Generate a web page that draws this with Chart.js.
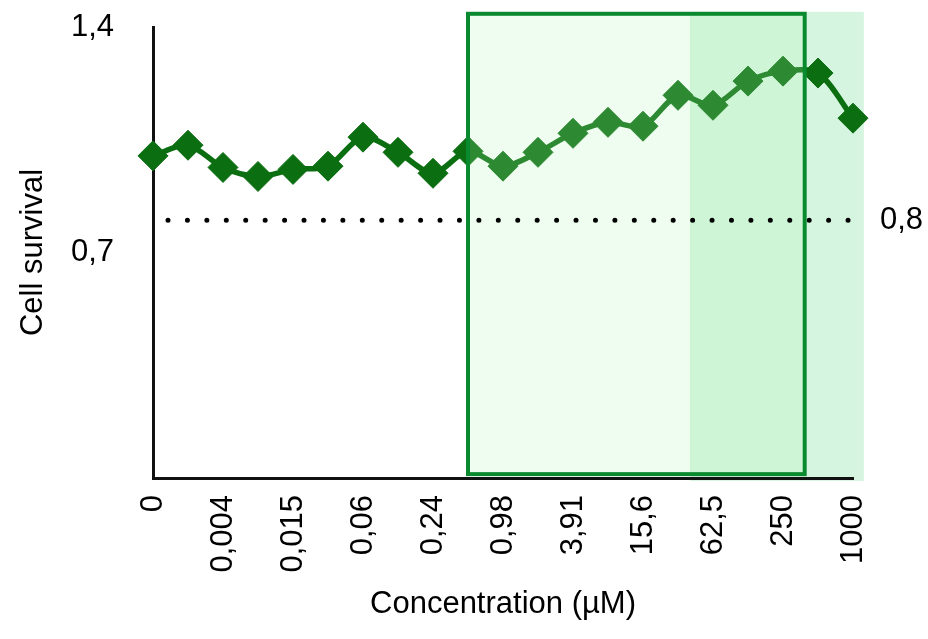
<!DOCTYPE html>
<html>
<head>
<meta charset="utf-8">
<script src="https://cdn.jsdelivr.net/npm/chart.js@4"></script>
<style>
  html, body { margin: 0; padding: 0; background: #fff; }
  #wrap { position: relative; width: 928px; height: 639px; }
</style>
</head>
<body>
<div id="wrap"><canvas id="chart"></canvas></div>
<script>
// concentrations (µM), one label every second measurement
const concLabels = ['0', '0,004', '0,015', '0,06', '0,24', '0,98', '3,91', '15,6', '62,5', '250', '1000'];
// cell survival, 21 measurements
const survival = [1.00, 1.033, 0.964, 0.936, 0.958, 0.968, 1.058, 1.011, 0.946, 1.014, 0.968,
                  1.011, 1.070, 1.104, 1.092, 1.188, 1.157, 1.232, 1.263, 1.257, 1.117];
const yTicks = [0.7, 1.4];
const threshold = 0.8;

// shaded zones, in data units (x = measurement index, y = survival)
const boxX = [9, 18.62], boxY = [0.012, 1.441];
const bandX = [15.34, 20.31], bandY = [-0.009, 1.447];

const labels = concLabels.flatMap((c, i) => i < concLabels.length - 1 ? [c, ''] : [c]);

const GREEN = '#0b6e10';
const FONT = 'Liberation Sans, Arial, sans-serif';
const SIZE = 31;
const comma = v => String(v).replace('.', ',');

function rect(chart, xr, yr) {
    const x = chart.scales.x, y = chart.scales.y;
    const x0 = x.getPixelForValue(xr[0]), x1 = x.getPixelForValue(xr[1]);
    const y0 = y.getPixelForValue(yr[1]), y1 = y.getPixelForValue(yr[0]);
    return [x0, y0, x1 - x0, y1 - y0];
}

function noPad(s) {
    s.paddingTop = 0; s.paddingBottom = 0;
    s.paddingLeft = 0; s.paddingRight = 0;
}

const zones = {
    id: 'zones',
    // band goes under the axes
    beforeDraw(chart) {
        const ctx = chart.ctx;
        ctx.save();
        ctx.fillStyle = '#d6f5e0';
        ctx.fillRect(...rect(chart, bandX, bandY));
        ctx.restore();
    },
    // translucent box fill over the survival line only
    afterDatasetDraw(chart, args) {
        if (args.index !== 1) return;
        const ctx = chart.ctx;
        ctx.save();
        ctx.fillStyle = 'rgba(175,246,180,0.21)';
        ctx.fillRect(...rect(chart, boxX, boxY));
        ctx.restore();
    },
    afterDatasetsDraw(chart) {
        const ctx = chart.ctx;
        ctx.save();
        ctx.strokeStyle = '#0a8a2e';
        ctx.lineWidth = 4;
        ctx.strokeRect(...rect(chart, boxX, boxY));
        ctx.restore();
    }
};

new Chart(document.getElementById('chart'), {
    type: 'line',
    data: {
        labels: labels,
        datasets: [
            {
                label: 'Threshold',
                data: [{ x: labels[0], y: threshold }, { x: labels[labels.length - 1], y: threshold }],
                borderColor: '#000',
                borderWidth: 5,
                borderCapStyle: 'round',
                borderDash: [0, 19.43],
                borderDashOffset: 4.43,
                pointRadius: 0,
                tension: 0,
            },
            {
                label: 'Cell survival',
                data: survival,
                borderColor: GREEN,
                backgroundColor: GREEN,
                borderWidth: 5.5,
                tension: 0.3,
                pointStyle: 'rectRot',
                pointRadius: 15,
                pointBorderWidth: 1,
                pointBorderColor: GREEN,
                pointBackgroundColor: GREEN,
                clip: false,
            },
        ],
    },
    options: {
        responsive: true,
        maintainAspectRatio: false,
        animation: false,
        layout: { padding: { top: 27, right: 0, bottom: 0, left: 0 } },
        plugins: { legend: { display: false }, tooltip: { enabled: false } },
        scales: {
            x: {
                grid: { display: false, drawTicks: false },
                border: { display: true, color: '#111', width: 3 },
                ticks: {
                    autoSkip: false, minRotation: 90, maxRotation: 90, padding: 17,
                    color: '#000', font: { family: FONT, size: SIZE },
                },
                title: {
                    display: true, text: 'Concentration (µM)', color: '#000',
                    font: { family: FONT, size: SIZE }, padding: { top: 0, bottom: 16 },
                },
                afterFit: s => { s.height = 161; noPad(s); },
            },
            y: {
                position: 'left',
                min: 0, max: 1.4,
                grid: { display: false, drawTicks: false },
                border: { display: true, color: '#111', width: 3 },
                afterBuildTicks: s => { s.ticks = yTicks.map(v => ({ value: v })); },
                ticks: {
                    padding: 39, color: '#000', font: { family: FONT, size: SIZE },
                    callback: v => comma(v),
                },
                title: {
                    display: true, text: 'Cell survival', color: '#000',
                    font: { family: FONT, size: SIZE }, padding: { top: 15, bottom: 0 },
                },
                afterFit: s => { s.width = 153; noPad(s); },
            },
            y2: {
                position: 'right',
                min: 0, max: 1.4,
                grid: { display: false, drawTicks: false },
                border: { display: false },
                afterBuildTicks: s => { s.ticks = [{ value: threshold }]; },
                ticks: {
                    padding: 27, color: '#000', font: { family: FONT, size: SIZE },
                    callback: v => comma(v),
                },
                afterFit: s => { s.width = 75; noPad(s); },
            },
        },
    },
    plugins: [zones],
});
</script>
</body>
</html>
